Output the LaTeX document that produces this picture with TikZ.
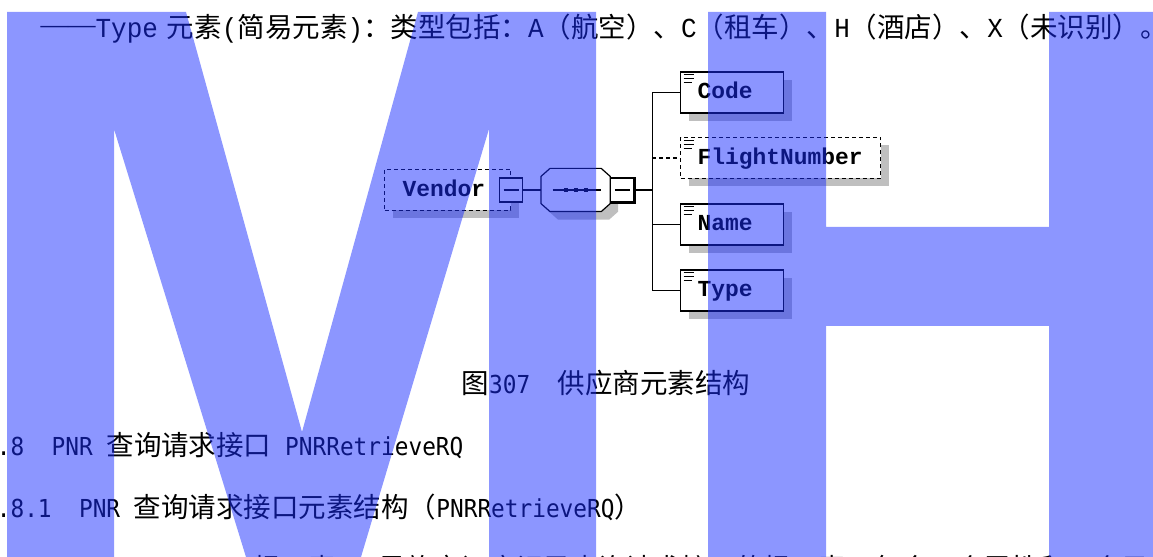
\documentclass[tikz,border=0pt]{standalone}
\usepackage{fontspec}
\setmainfont{Liberation Serif}
\newfontfamily\cjk{Noto Sans CJK SC}
\newfontfamily\songmono[FakeStretch=0.945]{Liberation Mono}
\newfontfamily\heimono[Scale=0.9,FakeStretch=0.92]{DejaVu Sans Mono}
\newfontfamily\xsdmono{Liberation Mono}
\usetikzlibrary{calc, shadows}

\tikzset{
  txt/.style={anchor=base west, inner sep=0pt, font=\fontsize{27.6}{33}\selectfont},
  optional/.style={dash pattern=on 4bp off 3bp},
  xsdshadow/.style={drop shadow={shadow xshift=8bp, shadow yshift=-8bp, fill=black!25, opacity=1}},
  xsdbox/.style={draw, fill=white, xsdshadow, anchor=west, inner sep=0pt,
    minimum height=41bp, text height=13bp, text depth=0bp, align=left,
    font=\xsdmono\bfseries\fontsize{23}{23}\selectfont},
  elem/.style={xsdbox, text width=103bp,
    path picture={\foreach \k/\l in {3/10,7/10,11/8}
      \draw[solid, line width=1bp] ([xshift=3bp,yshift=-\k bp]path picture bounding box.north west) -- ++(\l bp,0bp);}},
  btn/.style={draw, fill=white, minimum width=23bp, minimum height=24bp, inner sep=0pt,
    path picture={\draw ([xshift=4bp]path picture bounding box.west) -- ([xshift=-4bp]path picture bounding box.east);}},
  seqbox/.style={minimum width=68bp, minimum height=42bp, inner sep=0pt, anchor=west},
  wmfill/.style={fill={rgb,255:red,25;green,45;blue,255}, fill opacity=0.5}
}

\begin{document}
\begin{tikzpicture}[x=1bp, y=-1bp, line width=1.2bp]
\useasboundingbox (0,0) rectangle (1153,557);

\node[txt] (typeline) at (40,37.5) {\raisebox{0.13em}{——}{\songmono Type}\hspace{9bp}{\cjk 元素}{\songmono (}{\cjk 简易元素}{\songmono )}{\cjk ：类型包括：}{\songmono A}{\cjk （航空）、}{\songmono C}{\cjk （租车）、}{\songmono H}{\cjk （酒店）、}{\songmono X}{\cjk （未识别）。}};

\node[xsdbox, optional, text width=126bp] (vendor) at (384,190) {\hspace*{18bp}Vendor};
\node[btn] (vendorbtn) at (vendor.east) {};
\node[seqbox] (seq) at (541,190) {};
\fill[black!25] ($(seq.north west)+(17,8)$) -- ($(seq.north east)+(-1,8)$) -- ($(seq.north east)+(8,16)$)
  -- ($(seq.south east)+(8,0)$) -- ($(seq.south east)+(-1,8)$) -- ($(seq.south west)+(17,8)$)
  -- ($(seq.south west)+(8,0)$) -- ($(seq.north west)+(8,16)$) -- cycle;
\draw[fill=white] ($(seq.north west)+(9,0)$) -- ($(seq.north east)+(-9,0)$) -- ($(seq.north east)+(0,8)$)
  -- ($(seq.south east)+(0,-8)$) -- ($(seq.south east)+(-9,0)$) -- ($(seq.south west)+(9,0)$)
  -- ($(seq.south west)+(0,-8)$) -- ($(seq.north west)+(0,8)$) -- cycle;
\node[btn, anchor=west] (seqbtn) at (seq.east) {};
\draw[line width=2.5bp] ([xshift=0.6bp]seqbtn.north east) -- ([xshift=0.6bp,yshift=-0.6bp]seqbtn.south east) -- ([yshift=-0.6bp]seqbtn.south west);
\draw ($(seq.center)+(-23,0)$) -- ($(seq.center)+(25,0)$);
\foreach \dx in {-10,0,10}
  \fill ($(seq.center)+(\dx,0)$) +(-2,-2) rectangle +(2,2);
\coordinate (fork) at ($(seqbtn.east)+(18,0)$);

\node[elem] (code) at (680,92.5) {\hspace*{17bp}Code};
\node[elem, optional, text width=200bp] (flight) at (680,158) {\hspace*{17bp}FlightNumber};
\node[elem] (name) at (680,224.5) {\hspace*{17bp}Name};
\node[elem] (type) at (680,290.5) {\hspace*{17bp}Type};

\draw (vendorbtn) -- (seq);
\draw (seqbtn) -- (fork);
\draw (code.west) -| (fork) |- (type.west);
\draw (fork |- name.west) -- (name.west);
\draw[optional] (fork |- flight.west) -- (flight.west);

\node[txt] (caption) at (461,393) {{\cjk 图}{\heimono 307~~}{\cjk 供应商元素结构}};
\node[txt] (sec) at (-3.75,455) {{\heimono .8~~PNR~}{\cjk 查询请求接口}{\heimono ~PNRRetrieveRQ}};
\node[txt] (subsec) at (-3.75,517) {{\heimono .8.1~~PNR~}{\cjk 查询请求接口元素结构（}{\heimono PNRRetrieveRQ}{\cjk ）}};
\node[txt] (bodyline) at (237,578) {{\songmono (}{\cjk 根元素}{\songmono )}{\cjk ：是旅客订座记录查询请求接口的根元素，包含一个属性和一个子元素。}};

\fill[wmfill] (7,12) -- (186,12) -- (302,432) -- (418,12) -- (596,12) -- (596,557) -- (489,557) -- (489,129) -- (361,557) -- (246,557) -- (114,129) -- (114,557) -- (7,557) -- cycle;
\fill[wmfill] (708,12) -- (826,12) -- (826,227) -- (1049,227) -- (1049,12) -- (1153,12) -- (1153,557) -- (1049,557) -- (1049,326) -- (826,326) -- (826,557) -- (708,557) -- cycle;
\end{tikzpicture}
\end{document}
